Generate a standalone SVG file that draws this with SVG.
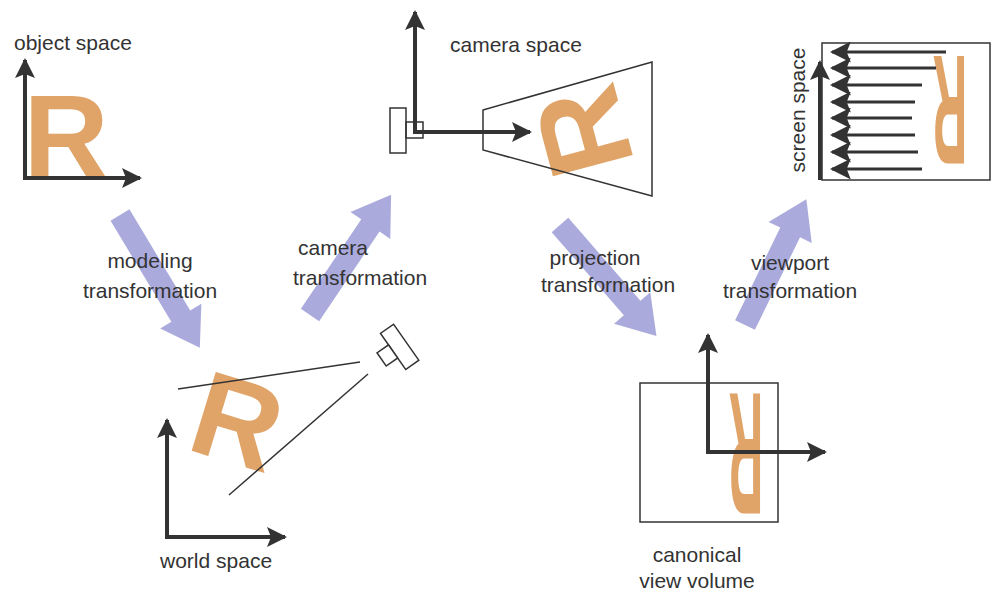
<svg xmlns="http://www.w3.org/2000/svg" width="1007" height="593" viewBox="0 0 1007 593">
<style>
.t{font-family:"Liberation Sans",Arial,sans-serif;font-size:21px;fill:#333}
.ax{stroke:#333;stroke-width:4;fill:none}
.th{stroke:#333;stroke-width:1.5;fill:none}
.r{font-family:"Liberation Sans",Arial,sans-serif;font-weight:bold;fill:#e0a468;text-anchor:middle}
.big{fill:#aaaadd}
</style>
<defs>
<marker id="ah" viewBox="0 0 10 10" refX="9" refY="5" markerWidth="5" markerHeight="5" orient="auto-start-reverse" markerUnits="strokeWidth"><path d="M0,0 L10,5 L0,10 L2,5 z" fill="#333"/></marker>
<marker id="ahs" viewBox="0 0 10 10" refX="9" refY="5" markerWidth="7" markerHeight="7" orient="auto" markerUnits="strokeWidth"><path d="M0,0 L10,5 L0,10 L2,5 z" fill="#333"/></marker>
</defs>
<rect width="1007" height="593" fill="#fff"/>
<g id="object-space">
<text class="r" x="66" y="178" font-size="118">R</text>
<path class="ax" d="M25,60 V178 H140" marker-start="url(#ah)" marker-end="url(#ah)"/>
<text class="t" x="14" y="50">object space</text>
</g>
<g id="world-space">
<text class="r" font-size="120" x="0" y="43" transform="translate(238,420) rotate(17)">R</text>
<line class="th" x1="178" y1="389" x2="360" y2="362"/>
<line class="th" x1="229" y1="495" x2="368" y2="374"/>
<g transform="translate(398,348) rotate(-35)" class="th"><rect x="-6" y="-22" width="16" height="44" fill="#fff"/><rect x="-20" y="-8" width="14" height="16" fill="#fff"/></g>
<path class="ax" d="M167,420 V537 H285" marker-start="url(#ah)" marker-end="url(#ah)"/>
<text class="t" x="160" y="568">world space</text>
</g>
<g id="camera-space">
<text class="r" font-size="120" x="0" y="43" transform="translate(582,132) rotate(-105)">R</text>
<polygon class="th" points="483,110 652,62 652,196 483,150"/>
<rect class="th" x="390" y="108" width="16" height="45"/>
<rect class="th" x="406" y="122" width="17" height="16"/>
<path class="ax" d="M415,12 V132 H530" marker-start="url(#ah)" marker-end="url(#ah)"/>
<text class="t" x="450" y="52">camera space</text>
</g>
<g id="canonical-view-volume">
<text class="r" font-size="120" x="0" y="43" transform="translate(746,455) scale(0.4,1.45) rotate(180)">R</text>
<rect class="th" x="640" y="383" width="138" height="139"/>
<path class="ax" d="M708,335 V452 H825" marker-start="url(#ah)" marker-end="url(#ah)"/>
<text class="t" x="697" y="562" text-anchor="middle">canonical</text>
<text class="t" x="697" y="588" text-anchor="middle">view volume</text>
</g>
<g id="screen-space">
<text class="r" font-size="120" x="0" y="43" transform="translate(950,112) scale(0.4,1.3) rotate(180)">R</text>
<rect class="th" x="822" y="43" width="168" height="137"/>
<g stroke="#333" stroke-width="3" marker-end="url(#ahs)">
<line x1="946" y1="52" x2="832" y2="52"/>
<line x1="936" y1="68" x2="832" y2="68"/>
<line x1="922" y1="85" x2="832" y2="85"/>
<line x1="915" y1="102" x2="832" y2="102"/>
<line x1="912" y1="118" x2="832" y2="118"/>
<line x1="915" y1="135" x2="832" y2="135"/>
<line x1="918" y1="152" x2="832" y2="152"/>
<line x1="922" y1="169" x2="832" y2="169"/>
</g>
<path class="ax" d="M820,180 V62" marker-end="url(#ah)"/>
<text class="t" transform="translate(805,110) rotate(-90)" text-anchor="middle">screen space</text>
</g>
<g id="connectors">
<polygon class="big" transform="translate(120,215) rotate(59)" points="0,-11 118,-11 118,-24 155,0 118,24 118,11 0,11"/>
<polygon class="big" transform="translate(310,315) rotate(-56)" points="0,-11 108,-11 108,-24 145,0 108,24 108,11 0,11"/>
<polygon class="big" transform="translate(560,225) rotate(49)" points="0,-11 110,-11 110,-24 147,0 110,24 110,11 0,11"/>
<polygon class="big" transform="translate(745,325) rotate(-64)" points="0,-11 103,-11 103,-24 140,0 103,24 103,11 0,11"/>
</g>
<g id="labels">
<text class="t" x="150" y="268" text-anchor="middle">modeling</text>
<text class="t" x="150" y="298" text-anchor="middle">transformation</text>
<text class="t" x="333" y="255" text-anchor="middle">camera</text>
<text class="t" x="360" y="285" text-anchor="middle">transformation</text>
<text class="t" x="595" y="265" text-anchor="middle">projection</text>
<text class="t" x="608" y="292" text-anchor="middle">transformation</text>
<text class="t" x="790" y="270" text-anchor="middle">viewport</text>
<text class="t" x="790" y="298" text-anchor="middle">transformation</text>
</g>
</svg>
